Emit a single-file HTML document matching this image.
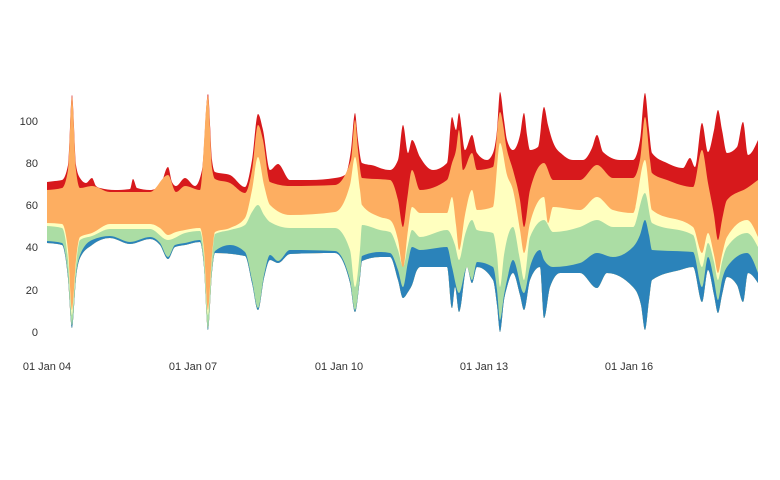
<!DOCTYPE html>
<html><head><meta charset="utf-8"><style>
html,body{margin:0;padding:0;background:#fff;}
svg{display:block;}
text{font-family:"Liberation Sans",sans-serif;font-size:11px;fill:#333;}
</style></head><body>
<svg id="s" width="780" height="480" viewBox="0 0 780 480">
<g id="areas"></g>
<g text-anchor="end">
<text x="38" y="336">0</text>
<text x="38" y="294">20</text>
<text x="38" y="251">40</text>
<text x="38" y="209">60</text>
<text x="38" y="167">80</text>
<text x="38" y="125">100</text>
</g>
<g text-anchor="middle">
<text x="47" y="370">01 Jan 04</text>
<text x="193" y="370">01 Jan 07</text>
<text x="339" y="370">01 Jan 10</text>
<text x="484" y="370">01 Jan 13</text>
<text x="629" y="370">01 Jan 16</text>
</g>
</svg>
<script>
var B5=[[47,182],[55,181],[62,180],[68,165],[72,95],[76,165],[80,178],[86,183],[92,178],[96,186],[100,188],[115,190],[130,189],[133,179],[137,188],[150,190],[160,186],[168,167],[172,182],[176,186],[185,178],[195,186],[202,170],[208,94],[212,160],[215,172],[230,175],[245,187],[252,160],[258,114],[263,130],[270,170],[278,164],[290,180],[310,180],[335,178],[345,175],[351,150],[355,113],[358,140],[362,163],[375,166],[380,168],[390,170],[398,160],[403,125],[408,153],[412,140],[420,157],[433,170],[447,163],[452,117],[456,130],[459,113],[465,150],[472,135],[477,153],[487,160],[493,153],[497,130],[500,92],[504,120],[507,140],[513,150],[520,135],[524,113],[527,135],[530,150],[538,147],[544,107],[548,125],[553,142],[563,155],[573,160],[583,160],[592,148],[597,135],[603,152],[620,160],[633,160],[640,140],[645,93],[649,130],[652,153],[667,163],[683,168],[690,158],[695,167],[702,123],[708,152],[714,130],[718,110],[722,130],[727,153],[737,147],[743,122],[748,155],[758,140]];
var B4=[[47,190],[62,188],[68,170],[72,97],[76,170],[80,188],[92,186],[110,192],[150,192],[168,175],[176,192],[185,186],[200,190],[208,96],[212,168],[215,179],[230,183],[245,193],[252,170],[258,125],[263,140],[270,182],[290,186],[335,185],[351,160],[355,120],[358,150],[362,178],[390,180],[398,200],[403,227],[407,200],[412,170],[420,190],[447,180],[452,163],[456,150],[459,130],[463,170],[472,153],[477,170],[493,167],[500,112],[507,150],[513,170],[520,200],[524,227],[530,190],[544,163],[553,180],[580,180],[597,165],[613,178],[633,178],[640,160],[645,117],[650,160],[652,173],[667,180],[693,187],[702,150],[708,183],[714,215],[718,240],[722,220],[727,200],[747,188],[758,180]];
var B3=[[47,223],[62,224],[68,250],[72,310],[76,260],[80,237],[92,233],[110,224],[150,224],[160,228],[168,235],[176,232],[185,230],[200,228],[204,250],[208,310],[212,255],[215,232],[230,228],[245,218],[252,190],[258,157],[264,185],[270,205],[290,215],[335,212],[350,185],[355,157],[360,190],[362,205],[380,217],[390,220],[398,240],[403,268],[408,230],[412,207],[420,213],[447,213],[452,197],[456,225],[459,250],[465,215],[472,190],[477,210],[493,207],[500,143],[507,175],[513,190],[520,230],[524,253],[530,223],[544,197],[548,223],[553,207],[580,210],[597,197],[613,210],[633,213],[645,160],[652,210],[693,227],[702,253],[708,233],[714,255],[718,273],[722,255],[727,237],[747,220],[758,237]];
var B2=[[47,226],[62,228],[68,260],[72,315],[76,265],[80,240],[92,236],[110,229],[150,229],[168,240],[185,233],[200,231],[204,255],[208,315],[212,258],[215,234],[230,230],[245,225],[252,212],[258,205],[264,215],[270,222],[290,228],[335,228],[350,250],[355,287],[360,250],[362,225],[380,230],[390,232],[398,250],[403,267],[408,245],[412,230],[420,237],[447,230],[455,245],[459,260],[465,235],[472,220],[477,230],[493,233],[497,255],[500,287],[504,255],[513,227],[520,260],[524,280],[530,237],[544,220],[553,232],[580,227],[597,220],[613,227],[633,227],[645,193],[652,223],[693,235],[702,267],[708,243],[714,262],[718,280],[722,262],[727,247],[747,233],[758,247]];
var B1=[[47,241],[62,243],[68,275],[72,325],[76,275],[80,255],[92,240],[110,236],[130,242],[150,237],[160,243],[168,257],[175,245],[185,243],[200,240],[204,265],[208,328],[212,270],[215,251],[230,245],[245,252],[252,280],[258,308],[264,275],[270,255],[278,261],[290,250],[335,251],[350,280],[355,310],[360,275],[362,256],[380,252],[390,253],[398,270],[403,287],[408,262],[412,247],[420,250],[447,247],[452,267],[459,293],[467,267],[472,280],[477,262],[493,267],[497,290],[500,320],[504,295],[507,280],[513,260],[524,293],[530,267],[540,250],[544,260],[553,267],[580,263],[597,253],[613,257],[633,247],[640,235],[645,220],[649,235],[652,250],[693,252],[702,287],[708,257],[714,280],[718,300],[722,280],[727,267],[747,253],[758,273]];
var B0=[[47,243],[62,245],[68,278],[72,328],[76,278],[80,258],[92,245],[110,238],[130,244],[150,239],[160,245],[168,259],[175,247],[185,245],[200,242],[204,267],[208,330],[212,272],[215,253],[245,256],[252,283],[258,310],[264,278],[270,260],[278,263],[290,254],[335,253],[350,283],[355,312],[360,278],[362,261],[380,257],[390,257],[398,280],[403,298],[408,292],[412,285],[417,270],[420,267],[447,267],[452,308],[455,287],[459,312],[467,267],[472,283],[477,267],[493,280],[497,305],[500,332],[504,300],[507,287],[513,273],[520,295],[524,310],[530,280],[540,267],[544,318],[550,287],[560,273],[580,273],[597,288],[607,273],[633,287],[641,305],[645,330],[649,300],[652,280],[680,270],[693,267],[702,302],[708,270],[714,295],[718,313],[722,295],[727,277],[737,285],[743,302],[748,273],[758,283]];
function sgn(v){return v<0?-1:1;}
function segs(p){var n=p.length,t=[];
for(var i=0;i<n;i++){
 if(i>0&&i<n-1){var h0=p[i][0]-p[i-1][0],h1=p[i+1][0]-p[i][0],s0=(p[i][1]-p[i-1][1])/h0,s1=(p[i+1][1]-p[i][1])/h1,pp=(s0*h1+s1*h0)/(h0+h1);
  t[i]=(sgn(s0)+sgn(s1))*Math.min(Math.abs(s0),Math.abs(s1),0.5*Math.abs(pp))||0;}
}
var h=p[1][0]-p[0][0];t[0]=(3*(p[1][1]-p[0][1])/h-t[1])/2;
h=p[n-1][0]-p[n-2][0];t[n-1]=(3*(p[n-1][1]-p[n-2][1])/h-t[n-2])/2;
var s=[];for(i=0;i<n-1;i++){var dx=(p[i+1][0]-p[i][0])/3;
 s.push([p[i],[p[i][0]+dx,p[i][1]+dx*t[i]],[p[i+1][0]-dx,p[i+1][1]-dx*t[i+1]],p[i+1]]);}
return s;}
function f(q){return q[0].toFixed(1)+","+q[1].toFixed(1);}
function fwd(p){var s=segs(p),d="";s.forEach(function(g){d+=" C"+f(g[1])+" "+f(g[2])+" "+f(g[3]);});return d;}
function rev(p){var s=segs(p).reverse(),d="";s.forEach(function(g){d+=" C"+f(g[2])+" "+f(g[1])+" "+f(g[0]);});return d;}
function area(top,bot,col){var last=bot[bot.length-1];
var d="M"+f(top[0])+fwd(top)+" L"+f(last)+rev(bot)+" Z";
var e=document.createElementNS("http://www.w3.org/2000/svg","path");e.setAttribute("d",d);e.setAttribute("fill",col);
document.getElementById("areas").appendChild(e);}
area(B5,B0,"#d7191c");area(B4,B0,"#fdae61");area(B3,B0,"#ffffbf");area(B2,B0,"#abdda4");area(B1,B0,"#2b83ba");
</script>
</body></html>
